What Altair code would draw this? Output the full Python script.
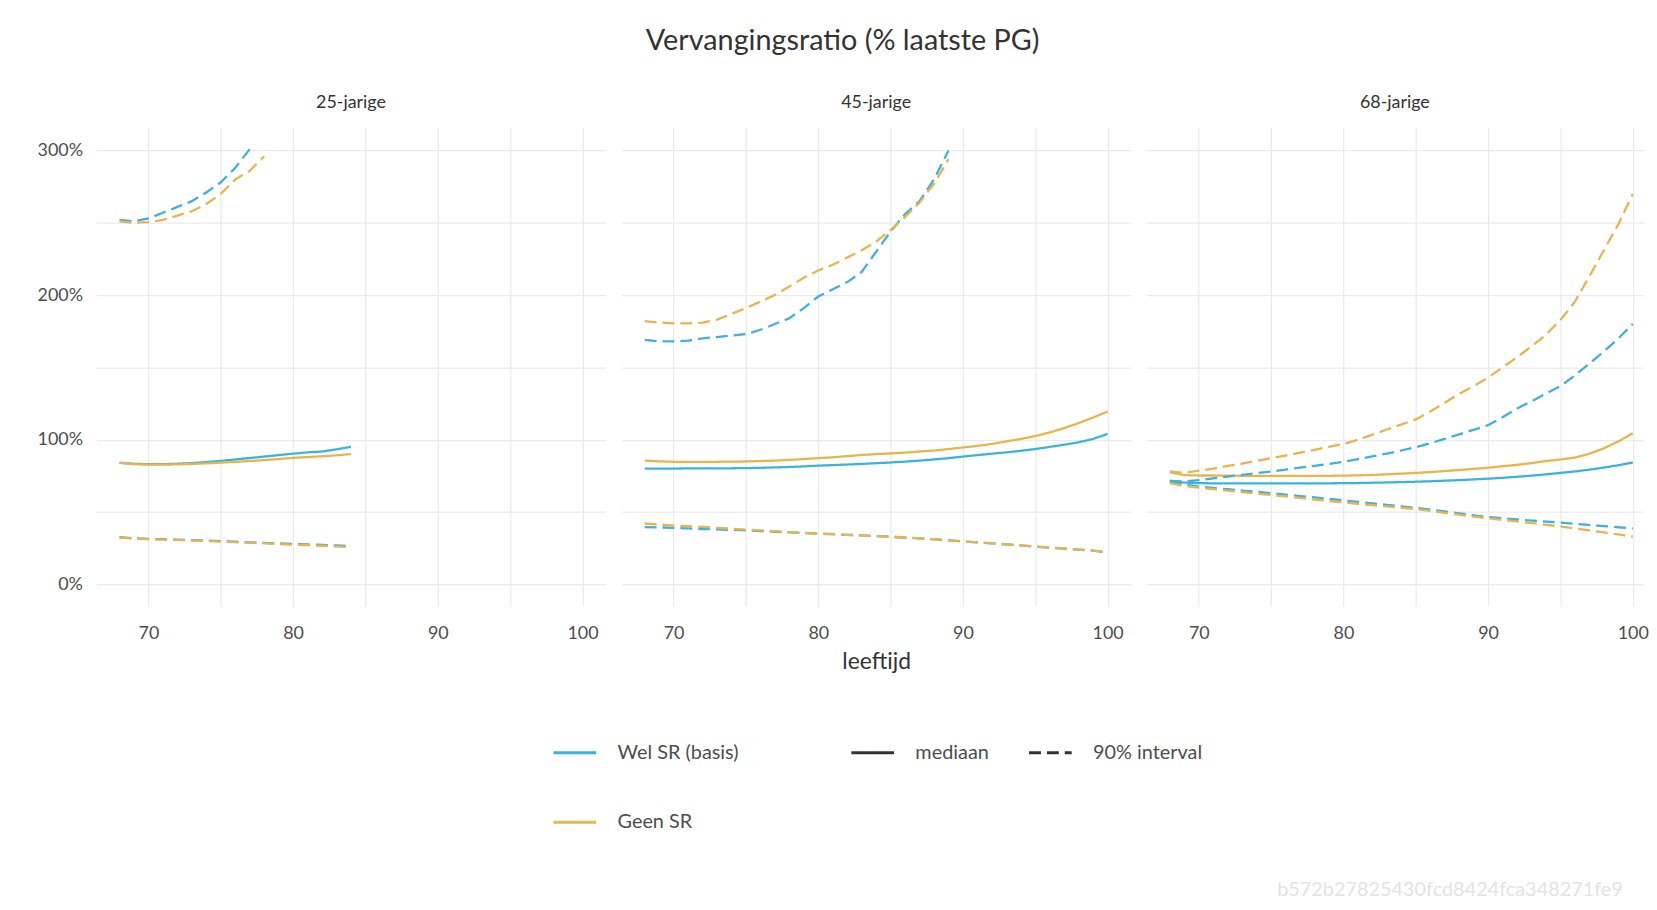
import altair as alt
import pandas as pd

# ---------------- data (values in %) ----------------
panels = ["25-jarige", "45-jarige", "68-jarige"]
groups = ["Wel SR (basis)", "Geen SR"]
stats = ["mediaan", "90% interval"]

ages_25 = list(range(68, 85))
blue_med_25 = [84.0, 83.3, 83.0, 83.0, 83.3, 83.8, 84.5, 85.3, 86.3, 87.3, 88.3, 89.3, 90.3, 91.2, 91.8, 93.3, 95.0]
gold_med_25 = [84.0, 83.0, 82.7, 82.7, 82.9, 83.2, 83.6, 84.1, 84.6, 85.2, 85.9, 86.6, 87.4, 88.0, 88.5, 89.2, 90.0]
blue_lo_25 = [32.5, 31.8, 31.4, 31.1, 30.8, 30.5, 30.2, 29.8, 29.4, 29.0, 28.6, 28.2, 27.8, 27.5, 27.2, 26.8, 26.4]
gold_lo_25 = [32.3, 31.6, 31.2, 30.9, 30.6, 30.2, 29.9, 29.5, 29.1, 28.7, 28.3, 27.8, 27.4, 27.0, 26.6, 26.1, 25.6]
ages_hi_blue_25 = list(range(68, 78))
blue_hi_25 = [252, 251, 253, 257, 261, 265, 271, 278, 288, 301]
ages_hi_gold_25 = list(range(68, 79))
gold_hi_25 = [251, 250, 250.5, 252, 255, 258, 263, 270, 280, 286, 296]

ages_full = list(range(68, 101))
blue_med_45 = [80.0, 80.0, 80.0, 80.1, 80.1, 80.2, 80.2, 80.3, 80.5, 80.8, 81.1, 81.5, 82.0, 82.4, 82.8, 83.2, 83.7,
               84.2, 84.8, 85.5, 86.3, 87.2, 88.3, 89.3, 90.3, 91.2, 92.3, 93.5, 95.0, 96.5, 98.2, 100.5, 104.0]
gold_med_45 = [85.5, 85.0, 84.7, 84.6, 84.6, 84.7, 84.8, 84.9, 85.2, 85.5, 86.0, 86.6, 87.2, 87.8, 88.6, 89.4, 90.0,
               90.5, 91.0, 91.8, 92.5, 93.5, 94.6, 95.7, 97.0, 98.8, 100.5, 102.5, 105.0, 108.0, 111.5, 115.3, 119.5]
blue_lo_45 = [39.5, 39.3, 39.0, 38.6, 38.2, 37.9, 37.6, 37.2, 36.8, 36.3, 35.9, 35.4, 35.0, 34.6, 34.2, 33.8, 33.3,
              32.8, 32.3, 31.7, 31.1, 30.4, 29.6, 29.0, 28.2, 27.5, 26.8, 26.0, 25.3, 24.6, 23.9, 23.2, 22.0]
gold_lo_45 = [42.0, 41.3, 40.6, 40.1, 39.6, 39.0, 38.4, 37.8, 37.2, 36.6, 36.0, 35.5, 35.0, 34.6, 34.2, 33.8, 33.3,
              32.8, 32.3, 31.7, 31.1, 30.4, 29.6, 29.0, 28.3, 27.6, 26.9, 26.1, 25.4, 24.7, 24.0, 23.3, 22.2]
ages_hi_45 = list(range(68, 90))
blue_hi_45 = [169, 168, 168, 168.5, 170, 171, 172, 173, 176, 180, 184, 191, 199, 204, 209, 216, 230, 244, 256, 265, 280, 300]
gold_hi_45 = [182, 181, 180.5, 180.5, 181, 183, 187, 191, 195.5, 200, 206, 212, 217, 221, 226, 231, 237, 245, 254, 264, 277, 294]

blue_med_68 = [71.5, 70.3, 69.9, 69.8, 69.8, 69.8, 69.8, 69.8, 69.8, 69.8, 69.8, 69.8, 69.9, 70.0, 70.2, 70.4, 70.6,
               70.9, 71.2, 71.6, 72.0, 72.5, 73.0, 73.6, 74.3, 75.1, 76.0, 77.0, 78.0, 79.2, 80.7, 82.3, 84.2]
gold_med_68 = [77.5, 75.5, 75.2, 75.2, 75.1, 75.0, 75.0, 75.0, 75.0, 75.0, 75.0, 75.0, 75.1, 75.3, 75.6, 76.0, 76.5,
               77.0, 77.6, 78.3, 79.0, 79.8, 80.6, 81.6, 82.6, 83.8, 85.2, 86.3, 87.6, 90.3, 94.0, 98.8, 104.5]
blue_lo_68 = [71.0, 69.0, 67.5, 66.6, 65.7, 64.8, 63.9, 63.0, 62.0, 61.0, 60.0, 59.0, 58.0, 57.0, 55.9, 54.9, 53.9,
              52.8, 51.6, 50.3, 49.0, 47.7, 46.4, 45.6, 44.8, 44.0, 43.3, 42.6, 41.8, 41.0, 40.2, 39.4, 38.5]
gold_lo_68 = [70.0, 68.0, 66.8, 65.8, 64.8, 63.7, 62.7, 61.7, 60.7, 59.7, 58.6, 57.6, 56.6, 55.6, 54.7, 53.8, 52.9,
              52.0, 50.7, 49.4, 48.1, 46.8, 45.6, 44.5, 43.4, 42.3, 41.1, 40.0, 38.6, 37.2, 35.8, 34.4, 33.0]
blue_hi_68 = [71.5, 71.0, 72.0, 73.2, 74.5, 75.7, 76.8, 78.0, 79.3, 80.6, 81.9, 83.2, 84.6, 86.5, 88.4, 90.4, 92.5,
              94.8, 97.5, 100.5, 103.7, 106.8, 110.0, 115.5, 121.6, 126.5, 131.8, 137.0, 144.5, 152.5, 161.0, 170.0, 180.0]
gold_hi_68 = [78.0, 77.0, 78.5, 80.0, 81.8, 83.5, 85.3, 87.2, 89.0, 91.0, 93.0, 95.0, 97.0, 100.0, 103.5, 107.0, 110.5,
              114.0, 119.5, 125.5, 131.8, 137.0, 143.0, 150.0, 157.0, 164.5, 172.6, 182.8, 195.5, 213.0, 231.0, 249.0, 270.0]

series = [
    ("25-jarige", groups[0], stats[0], "med", ages_25, blue_med_25),
    ("25-jarige", groups[1], stats[0], "med", ages_25, gold_med_25),
    ("25-jarige", groups[0], stats[1], "lo", ages_25, blue_lo_25),
    ("25-jarige", groups[1], stats[1], "lo", ages_25, gold_lo_25),
    ("25-jarige", groups[0], stats[1], "hi", ages_hi_blue_25, blue_hi_25),
    ("25-jarige", groups[1], stats[1], "hi", ages_hi_gold_25, gold_hi_25),
    ("45-jarige", groups[0], stats[0], "med", ages_full, blue_med_45),
    ("45-jarige", groups[1], stats[0], "med", ages_full, gold_med_45),
    ("45-jarige", groups[0], stats[1], "lo", ages_full, blue_lo_45),
    ("45-jarige", groups[1], stats[1], "lo", ages_full, gold_lo_45),
    ("45-jarige", groups[0], stats[1], "hi", ages_hi_45, blue_hi_45),
    ("45-jarige", groups[1], stats[1], "hi", ages_hi_45, gold_hi_45),
    ("68-jarige", groups[0], stats[0], "med", ages_full, blue_med_68),
    ("68-jarige", groups[1], stats[0], "med", ages_full, gold_med_68),
    ("68-jarige", groups[0], stats[1], "lo", ages_full, blue_lo_68),
    ("68-jarige", groups[1], stats[1], "lo", ages_full, gold_lo_68),
    ("68-jarige", groups[0], stats[1], "hi", ages_full, blue_hi_68),
    ("68-jarige", groups[1], stats[1], "hi", ages_full, gold_hi_68),
]

rows = []
for panel, grp, stat, bound, ages, vals in series:
    for a, v in zip(ages, vals):
        rows.append({"panel": panel, "groep": grp, "stat": stat, "lijn": grp + bound, "leeftijd": a, "waarde": v})
df = pd.DataFrame(rows)

FONT = "Lato"
BLUE = "#3cb2dc"
GOLD = "#e8b44c"

x_grid = [70, 75, 80, 85, 90, 95, 100]
y_grid = [0, 50, 100, 150, 200, 250, 300]

color_scale = alt.Scale(domain=groups, range=[BLUE, GOLD])
dash_scale = alt.Scale(domain=stats, range=[[1, 0], [12, 6]])

color_legend = alt.Legend(
    title=None, orient="none", legendX=459, legendY=607, direction="vertical",
    symbolType="stroke", symbolSize=1849, symbolStrokeWidth=3,
    labelFontSize=20, labelFont=FONT, labelColor="#4d4d4d", labelOffset=20, rowPadding=37,
)
dash_legend = alt.Legend(
    title=None, orient="none", legendX=759, legendY=607, direction="horizontal",
    symbolType="stroke", symbolSize=1849, symbolStrokeWidth=3, symbolStrokeColor="#333333",
    labelFontSize=20, labelFont=FONT, labelColor="#4d4d4d", labelOffset=20, columnPadding=33,
)


def panel_chart(name, idx, width, xmax):
    first = idx == 0
    y_axis = alt.Axis(
        values=y_grid, title=None, labels=first, ticks=False, domain=False,
        labelExpr="datum.value % 100 == 0 ? datum.value + '%' : ''",
        gridColor="#ebebeb", gridWidth=1.3, labelFontSize=18, labelFont=FONT,
        labelColor="#4d4d4d", labelPadding=14,
        **({} if first else {"minExtent": 0, "maxExtent": 0}),
    )
    if idx == 1:
        xtitle = dict(title="leeftijd", titleFontSize=23, titleFont=FONT, titleColor="#333333",
                      titleFontWeight="normal", titlePadding=8)
    elif idx == 2:
        xtitle = dict(title="b572b27825430fcd8424fca348271fe9", titleFontSize=20, titleFont=FONT,
                      titleColor="#e3e3e3", titleFontWeight="normal", titleX=131, titleY=286,
                      titleAlign="left", titleBaseline="middle", titleAnchor="start")
    else:
        xtitle = dict(title=None)
    x_axis = alt.Axis(
        values=x_grid, ticks=False, domain=False,
        labelExpr="datum.value % 10 == 0 ? datum.label : ''",
        gridColor="#ebebeb", gridWidth=1.3, labelFontSize=18, labelFont=FONT,
        labelColor="#4d4d4d", labelPadding=19, labelFlush=False, **xtitle,
    )
    return (
        alt.Chart(df[df["panel"] == name], title=alt.Title(name, fontSize=18, font=FONT, fontWeight="normal",
                                                            color="#333333", offset=16))
        .mark_line(strokeWidth=2.3, clip=True)
        .encode(
            x=alt.X("leeftijd:Q", scale=alt.Scale(domain=[66.4, xmax], nice=False, zero=False), axis=x_axis),
            y=alt.Y("waarde:Q", scale=alt.Scale(domain=[-15, 316], nice=False), axis=y_axis),
            color=alt.Color("groep:N", scale=color_scale, legend=color_legend),
            strokeDash=alt.StrokeDash("stat:N", scale=dash_scale, legend=dash_legend),
            detail="lijn:N",
        )
        .properties(width=width, height=482)
    )


chart = (
    alt.hconcat(
        panel_chart("25-jarige", 0, 513, 101.6),
        panel_chart("45-jarige", 1, 513, 101.6),
        panel_chart("68-jarige", 2, 500, 100.71),
        spacing=16,
        title=alt.Title("Vervangingsratio (% laatste PG)", fontSize=29, font=FONT, fontWeight="normal",
                        color="#333333", anchor="middle", offset=38),
    )
    .resolve_scale(x="independent")
    .configure(background="white", padding={"left": 29, "top": 16, "right": 0, "bottom": 0})
    .configure_view(stroke="transparent", strokeWidth=0)
)

chart.save("out.html", embed_options={"renderer": "svg", "actions": False})
